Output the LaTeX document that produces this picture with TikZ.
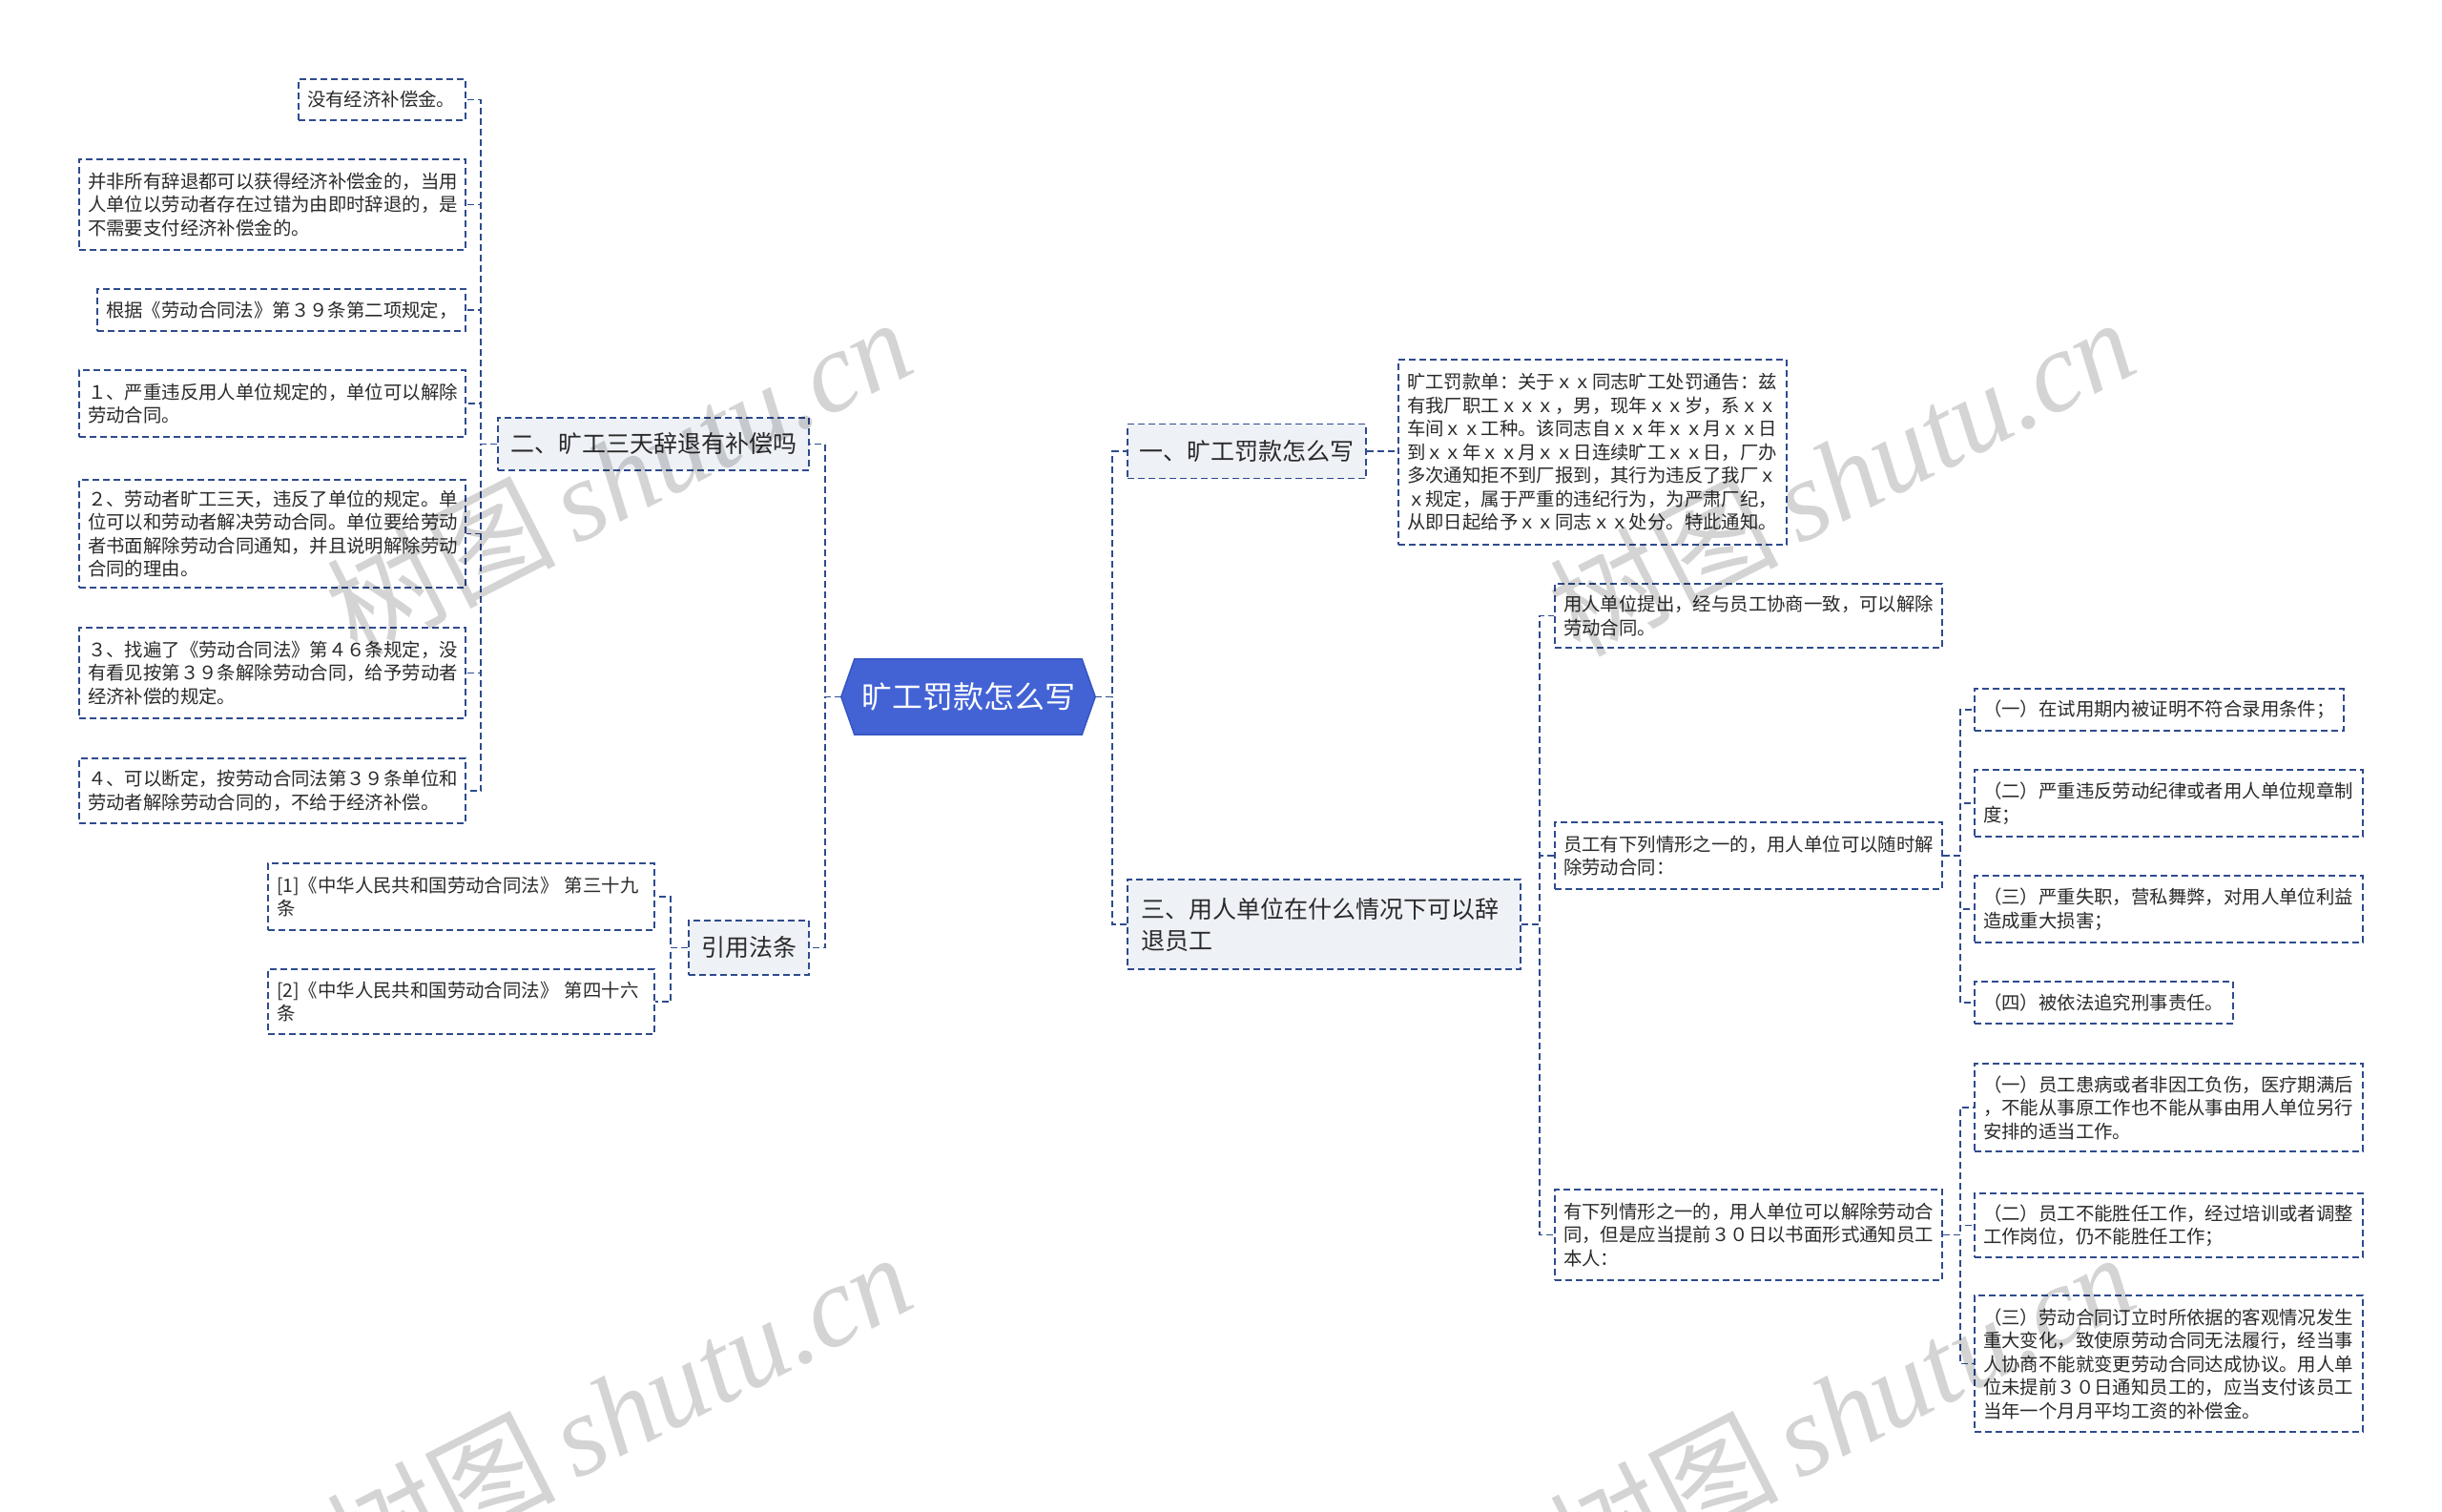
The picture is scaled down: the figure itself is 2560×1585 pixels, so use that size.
\documentclass[tikz,border=0pt]{standalone}
\usepackage{fontspec}
\setmainfont{Noto Sans CJK SC}
\newfontfamily\wmserif{Liberation Serif}
\usetikzlibrary{backgrounds}
\definecolor{lc}{HTML}{2E4B8E}
\definecolor{bfill}{HTML}{EEF1F6}
\definecolor{hexc}{HTML}{4363D5}
\definecolor{hexb}{HTML}{3455C2}
\definecolor{txt}{HTML}{2A2A2A}
\tikzset{
  conn/.style={draw=lc, line width=1.8pt, dash pattern=on 7pt off 4pt},
  leaf/.style={draw=lc, line width=1.8pt, dash pattern=on 7pt off 4pt, fill=white,
    text=txt, font=\fontsize{19.4}{24.5}\selectfont, align=left, inner xsep=9pt, inner ysep=5pt},
  branch/.style={draw=lc, line width=1.8pt, dash pattern=on 7pt off 4pt, fill=bfill,
    text=txt, font=\fontsize{25}{33}\selectfont, align=left, inner xsep=13pt, inner ysep=5pt},
  wm/.style={text=black, opacity=0.17, font=\fontsize{120}{120}\selectfont, rotate=27, inner sep=0pt},
}
\begin{document}
\begin{tikzpicture}[x=1pt, y=-1pt]
\useasboundingbox (0,0) rectangle (2560,1585);

% center
\node[text=white, font=\fontsize{32}{36}\selectfont, minimum width=266pt, minimum height=79pt, inner sep=0pt] (c) at (1015,730.5) {旷工罚款怎么写};
\begin{scope}[on background layer]
\fill[white] (0,0) rectangle (2560,1585);
\filldraw[fill=hexc, draw=hexb, line width=1.5pt] (c.west) -- ([xshift=14pt]c.north west) -- ([xshift=-14pt]c.north east) -- (c.east) -- ([xshift=-14pt]c.south east) -- ([xshift=14pt]c.south west) -- cycle;
\end{scope}

% branches
\node[branch, text width=300pt, minimum height=55pt] (b2) at (685,465.5) {二、旷工三天辞退有补偿吗};
\node[branch, text width=100pt, minimum height=57pt] (b4) at (785,993.5) {引用法条};
\node[branch, text width=225pt, inner xsep=12.5pt, minimum height=57pt] (b1) at (1307,473) {一、旷工罚款怎么写};
\node[branch, text width=384pt, inner xsep=14pt, minimum height=94pt] (b3) at (1388,969) {三、用人单位在什么情况下可以辞\\退员工};

% left leaves
\node[leaf, text width=157pt, minimum height=43pt] (L1) at (400.5,104.5) {没有经济补偿金。};
\node[leaf, text width=387pt, minimum height=95pt] (L2) at (285.5,214.5) {并非所有辞退都可以获得经济补偿金的，当用\\人单位以劳动者存在过错为由即时辞退的，是\\不需要支付经济补偿金的。};
\node[leaf, text width=368pt, minimum height=44pt] (L3) at (295,325) {根据《劳动合同法》第３９条第二项规定，};
\node[leaf, text width=387pt, minimum height=70pt] (L4) at (285.5,423) {１、严重违反用人单位规定的，单位可以解除\\劳动合同。};
\node[leaf, text width=387pt, minimum height=113pt] (L5) at (285.5,559.5) {２、劳动者旷工三天，违反了单位的规定。单\\位可以和劳动者解决劳动合同。单位要给劳动\\者书面解除劳动合同通知，并且说明解除劳动\\合同的理由。};
\node[leaf, text width=387pt, minimum height=95pt] (L6) at (285.5,705.5) {３、找遍了《劳动合同法》第４６条规定，没\\有看见按第３９条解除劳动合同，给予劳动者\\经济补偿的规定。};
\node[leaf, text width=387pt, minimum height=68pt] (L7) at (285.5,829) {４、可以断定，按劳动合同法第３９条单位和\\劳动者解除劳动合同的，不给于经济补偿。};
\node[leaf, text width=387pt, minimum height=70pt] (C1) at (483.5,940) {[1]《中华人民共和国劳动合同法》 第三十九\\条};
\node[leaf, text width=387pt, minimum height=68pt] (C2) at (483.5,1050) {[2]《中华人民共和国劳动合同法》 第四十六\\条};

% right leaves
\node[leaf, text width=389pt, minimum height=194pt] (ct) at (1669.5,474) {旷工罚款单：关于ｘｘ同志旷工处罚通告：兹\\有我厂职工ｘｘｘ，男，现年ｘｘ岁，系ｘｘ\\车间ｘｘ工种。该同志自ｘｘ年ｘｘ月ｘｘ日\\到ｘｘ年ｘｘ月ｘｘ日连续旷工ｘｘ日，厂办\\多次通知拒不到厂报到，其行为违反了我厂ｘ\\ｘ规定，属于严重的违纪行为，为严肃厂纪，\\从即日起给予ｘｘ同志ｘｘ处分。特此通知。};
\node[leaf, text width=388pt, minimum height=67pt] (R1) at (1833,645.5) {用人单位提出，经与员工协商一致，可以解除\\劳动合同。};
\node[leaf, text width=388pt, minimum height=70pt] (R2) at (1833,897) {员工有下列情形之一的，用人单位可以随时解\\除劳动合同：};
\node[leaf, text width=388pt, minimum height=95pt] (R3) at (1833,1294.5) {有下列情形之一的，用人单位可以解除劳动合\\同，但是应当提前３０日以书面形式通知员工\\本人：};
\node[leaf, text width=369pt, minimum height=44pt] (R2a) at (2263.5,744) {（一）在试用期内被证明不符合录用条件；};
\node[leaf, text width=389pt, minimum height=70pt] (R2b) at (2273.5,842) {（二）严重违反劳动纪律或者用人单位规章制\\度；};
\node[leaf, text width=389pt, minimum height=70pt] (R2c) at (2273.5,953) {（三）严重失职，营私舞弊，对用人单位利益\\造成重大损害；};
\node[leaf, text width=253pt, minimum height=44pt] (R2d) at (2205.5,1051) {（四）被依法追究刑事责任。};
\node[leaf, text width=389pt, minimum height=92pt] (R3a) at (2273.5,1161) {（一）员工患病或者非因工负伤，医疗期满后\\，不能从事原工作也不能从事由用人单位另行\\安排的适当工作。};
\node[leaf, text width=389pt, minimum height=67pt] (R3b) at (2273.5,1284.5) {（二）员工不能胜任工作，经过培训或者调整\\工作岗位，仍不能胜任工作；};
\node[leaf, text width=389pt, minimum height=143pt] (R3c) at (2273.5,1429.5) {（三）劳动合同订立时所依据的客观情况发生\\重大变化，致使原劳动合同无法履行，经当事\\人协商不能就变更劳动合同达成协议。用人单\\位未提前３０日通知员工的，应当支付该员工\\当年一个月月平均工资的补偿金。};

% connectors
\foreach \b in {b2,b4} \draw[conn] (c.west) -- ++(-17,0) |- (\b.east);
\foreach \b in {b1,b3} \draw[conn] (c.east) -- ++(18,0) |- (\b.west);
\foreach \l in {L1,L2,L3,L4,L5,L6,L7} \draw[conn] (b2.west) -- ++(-17,0) |- (\l.east);
\foreach \l in {C1,C2} \draw[conn] (b4.west) -- ++(-18,0) |- (\l.east);
\draw[conn] (b1.east) -- (b1.east -| ct.west);
\foreach \l in {R1,R2,R3} \draw[conn] (b3.east) -- ++(19,0) |- (\l.west);
\foreach \l in {R2a,R2b,R2c,R2d} \draw[conn] (R2.east) -- ++(18,0) |- (\l.west);
\foreach \l in {R3a,R3b,R3c} \draw[conn] (R3.east) -- ++(18,0) |- (\l.west);

% watermarks
\node[wm] (w1) at (648,498) {树图\,{\wmserif\itshape shutu.cn}};
\node[wm] (w2) at (1930,498) {树图\,{\wmserif\itshape shutu.cn}};
\node[wm] (w3) at (648,1478) {树图\,{\wmserif\itshape shutu.cn}};
\node[wm] (w4) at (1930,1478) {树图\,{\wmserif\itshape shutu.cn}};
\end{tikzpicture}
\end{document}
